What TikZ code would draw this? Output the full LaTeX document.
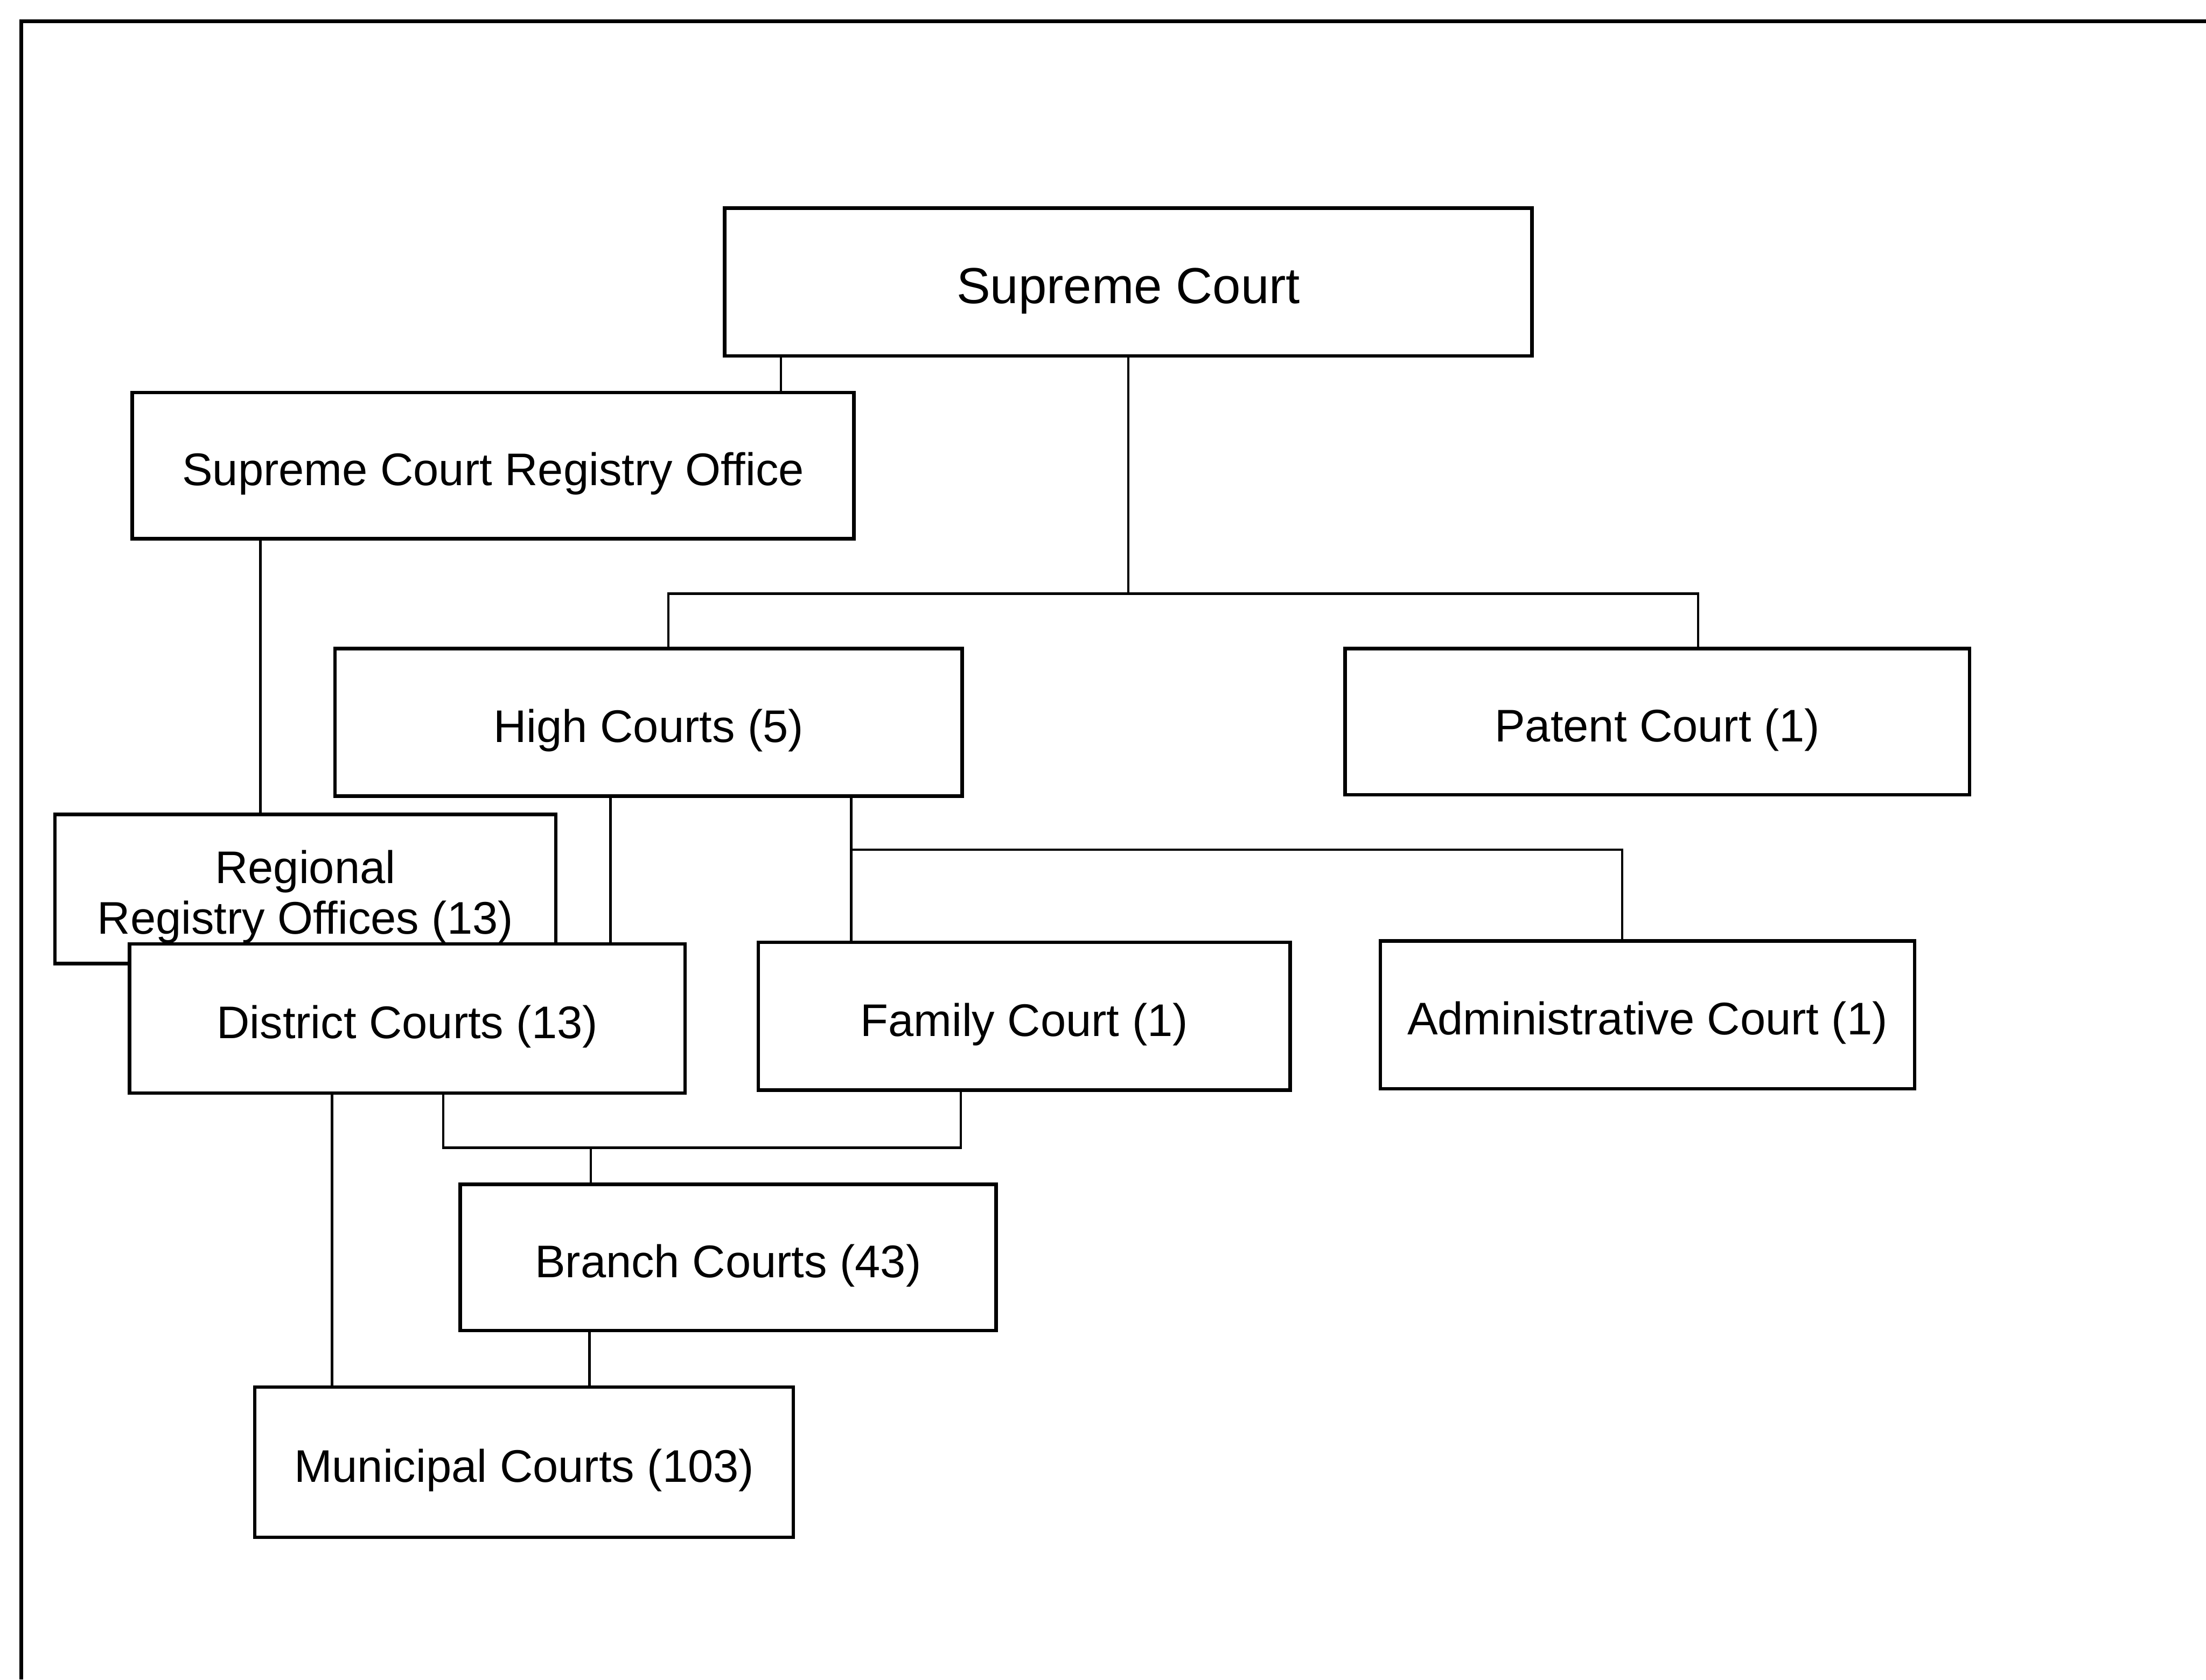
\documentclass[tikz,border=0pt]{standalone}
\usepackage{fontspec}
\setmainfont{Liberation Sans}
\begin{document}
\begin{tikzpicture}[x=0.02cm,y=-0.02cm,
  box/.style={draw=black,line width=1.4pt,fill=white,inner sep=0pt,align=center,
    font=\fontsize{18.5}{20.5}\selectfont,text height=20pt,text depth=3.9pt},
  conn/.style={draw=black,line width=1pt},
  frame/.style={draw=black,line width=1.5pt}]
\useasboundingbox (0,0) rectangle (1568,1194);
\draw[frame] (15,1194) -- (15,15) -- (1568,15);

\node[box,minimum width=11.48cm,minimum height=2.1cm,font=\fontsize{20.5}{24}\selectfont,text height=21.5pt,text depth=4.3pt] (sc) at (802,200.5) {Supreme Court};
\node[box,minimum width=10.26cm,minimum height=2.08cm] (sro) at (350.5,331) {Supreme Court Registry Office};
\node[box,minimum width=8.92cm,minimum height=2.1cm] (hc) at (461,513.5) {High Courts (5)};
\node[box,minimum width=8.88cm,minimum height=2.08cm] (pc) at (1178,513) {Patent Court (1)};
\node[box,minimum width=7.12cm,minimum height=2.12cm,text height=40.5pt] (rro) at (217,632) {Regional\\Registry Offices (13)};
\node[box,minimum width=7.9cm,minimum height=2.12cm] (dc) at (289.5,724) {District Courts (13)};
\node[box,minimum width=7.56cm,minimum height=2.1cm] (fc) at (728,722.5) {Family Court (1)};
\node[box,minimum width=7.6cm,minimum height=2.1cm] (ac) at (1171,721.5) {Administrative Court (1)};
\node[box,minimum width=7.62cm,minimum height=2.08cm] (bc) at (517.5,894) {Branch Courts (43)};
\node[box,minimum width=7.66cm,minimum height=2.14cm] (mc) at (372.5,1039.5) {Municipal Courts (103)};

% helper coordinates
\coordinate (xa) at (555,0);
\coordinate (xb) at (185,0);
\coordinate (yh1) at (0,422);
\coordinate (xh1) at (475,0);
\coordinate (xp) at (1207,0);
\coordinate (xd) at (434,0);
\coordinate (xf) at (605,0);
\coordinate (yh2) at (0,604);
\coordinate (xad) at (1153,0);
\coordinate (xd2) at (315,0);
\coordinate (yh3) at (0,816);
\coordinate (xf2) at (683,0);
\coordinate (xbr) at (420,0);
\coordinate (xb2) at (419,0);
\coordinate (xm) at (236,0);

% Supreme Court -> Registry Office
\draw[conn] (xa |- sc.south) -- (xa |- sro.north);
% Registry Office -> Regional Registry Offices
\draw[conn] (xb |- sro.south) -- (xb |- rro.north);
% Supreme Court -> High Courts, Patent Court
\draw[conn] (sc.south) -- (sc.south |- yh1);
\draw[conn] (xh1 |- hc.north) -- (xh1 |- yh1) -- (xp |- yh1) -- (xp |- pc.north);
% High Courts -> District Courts
\draw[conn] (xd |- hc.south) -- (xd |- dc.north);
% High Courts -> Family, Administrative
\draw[conn] (xf |- hc.south) -- (xf |- fc.north);
\draw[conn] (xf |- yh2) -- (xad |- yh2) -- (xad |- ac.north);
% District, Family -> Branch
\draw[conn] (xd2 |- dc.south) -- (xd2 |- yh3) -- (xf2 |- yh3) -- (xf2 |- fc.south);
\draw[conn] (xbr |- yh3) -- (xbr |- bc.north);
% Branch -> Municipal
\draw[conn] (xb2 |- bc.south) -- (xb2 |- mc.north);
% District -> Municipal
\draw[conn] (xm |- dc.south) -- (xm |- mc.north);
\end{tikzpicture}
\end{document}
